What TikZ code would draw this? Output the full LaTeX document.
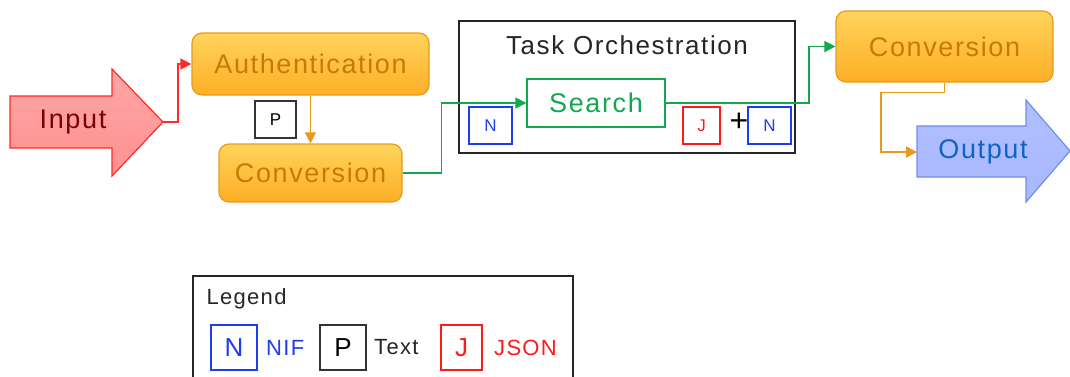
\documentclass[tikz,border=0pt]{standalone}
\usepackage{fontspec}
\setmainfont{Liberation Sans}[LetterSpace=6]
\usetikzlibrary{arrows.meta}

\definecolor{orTop}{HTML}{FFD45C}
\definecolor{orBot}{HTML}{FDAE25}
\definecolor{orLine}{HTML}{E89A1C}
\definecolor{orText}{HTML}{C97A05}
\definecolor{inFill}{HTML}{FF9090}
\definecolor{inLine}{HTML}{FF2A2A}
\definecolor{inText}{HTML}{780000}
\definecolor{outFill}{HTML}{A8B8FF}
\definecolor{outLine}{HTML}{6E8CF2}
\definecolor{outText}{HTML}{1062C4}
\definecolor{grn}{HTML}{12A84E}
\definecolor{nifBlue}{HTML}{1E3CF0}
\definecolor{jsonRed}{HTML}{FF1A1A}

\tikzset{
  orbox/.style={draw=orLine, line width=1.2pt, rounded corners=10pt,
    top color=orTop, bottom color=orBot, text=orText,
    font=\fontsize{27}{32}\selectfont, inner sep=0pt},
  tagbox/.style={draw, line width=1.3pt, inner sep=0pt,
    minimum height=37pt, font=\fontsize{17}{20}\selectfont},
  legbox/.style={tagbox, minimum height=45pt, font=\fontsize{26}{30}\selectfont},
  leglabel/.style={anchor=west, inner sep=0pt, font=\fontsize{22}{26}\selectfont},
  conn/.style={line width=1.6pt, -{Triangle[length=11pt,width=11pt]}},
}

\begin{document}
\begin{tikzpicture}[x=1pt, y=-1pt, line join=miter]

  %% ════ 输入 / 输出 大箭头 ════
  \draw[draw=inLine, line width=1.2pt, top color=inFill!80, bottom color=inFill]
    (10,96) -- (112,96) -- (112,69) -- (163,122) -- (112,176) -- (112,148) -- (10,148) -- cycle;
  \node[text=inText, font=\fontsize{27}{32}\selectfont] (input) at (73,122) {Input};
  \coordinate (intip) at (163,122);

  \draw[draw=outLine, line width=1.2pt, top color=outFill!90, bottom color=outFill]
    (917,126) -- (1026,126) -- (1026,100) -- (1070,151) -- (1026,202) -- (1026,177) -- (917,177) -- cycle;
  \node[text=outText, font=\fontsize{27}{32}\selectfont] (output) at (983,152) {Output};
  \coordinate (outin) at (917,152);

  %% ════ 橙色方块 ════
  \node[orbox, minimum width=237pt, minimum height=62pt] (auth) at (310.5,64) {Authentication};
  \node[orbox, minimum width=183pt, minimum height=58pt] (conv1) at (310.5,173) {Conversion};
  \node[orbox, minimum width=217pt, minimum height=71pt] (conv2) at (944.5,46.5) {Conversion};
  \node[tagbox, draw=black!80, minimum width=41pt] (ptag) at (275.5,119.5) {P};

  %% ════ Task Orchestration ════
  \node[draw=black!85, line width=1.3pt, minimum width=336pt, minimum height=132pt] (task) at (627,87) {};
  \node[font=\fontsize{26}{30}\selectfont, text=black!85] (title) at (627,45) {Task Orchestration};
  \node[draw=grn, line width=1.4pt, text=grn, minimum width=138pt, minimum height=48pt,
        inner sep=0pt, font=\fontsize{27}{32}\selectfont] (search) at (596,103) {Search};
  \node[tagbox, draw=nifBlue, text=nifBlue, minimum width=43pt] (nin) at (490.5,125.5) {N};
  \node[tagbox, draw=jsonRed, text=jsonRed, minimum width=37pt] (jout) at (701.5,125.5) {J};
  \node[font=\fontsize{32}{32}\selectfont, inner sep=0pt] (plus) at (739,122) {+};
  \node[tagbox, draw=nifBlue, text=nifBlue, minimum width=43pt] (nout) at (769.5,125.5) {N};

  %% ════ 连线 ════
  \draw[conn, inLine, line width=1.4pt] (intip) -- ++(15,0) |- (auth.west);
  \draw[conn, orLine] (auth.south) -- (conv1.north);
  \draw[conn, grn] (conv1.east) -- ++(39,0) |- (search.west);
  \draw[conn, grn] (search.east) -- ++(143,0) |- (conv2.west);
  \draw[conn, orLine] (conv2.south) -- ++(0,10) -| ([xshift=-36pt]outin) -- (outin);

  %% ════ 图例 ════
  \draw[black!85, line width=1.3pt] (193,390) -- (193,276) -- (573,276) -- (573,390);
  \node[anchor=west, font=\fontsize{22}{26}\selectfont, text=black!85] (leg) at (203,299) {Legend};
  \node[legbox, draw=nifBlue, text=nifBlue, minimum width=46pt] (lgn) at (234,347.5) {N};
  \node[leglabel, text=nifBlue] (lgnif) at (266,347.5) {NIF};
  \node[legbox, draw=black!80, minimum width=46pt] (lgp) at (343,347.5) {P};
  \node[leglabel, text=black!85] (lgtext) at (374,347.5) {Text};
  \node[legbox, draw=jsonRed, text=jsonRed, minimum width=41pt] (lgj) at (461.5,347.5) {J};
  \node[leglabel, text=jsonRed] (lgjson) at (494,347.5) {JSON};

  % 钉死画布
  \pgfresetboundingbox
  \path[use as bounding box] (0,0) rectangle (1070,376);
\end{tikzpicture}
\end{document}
